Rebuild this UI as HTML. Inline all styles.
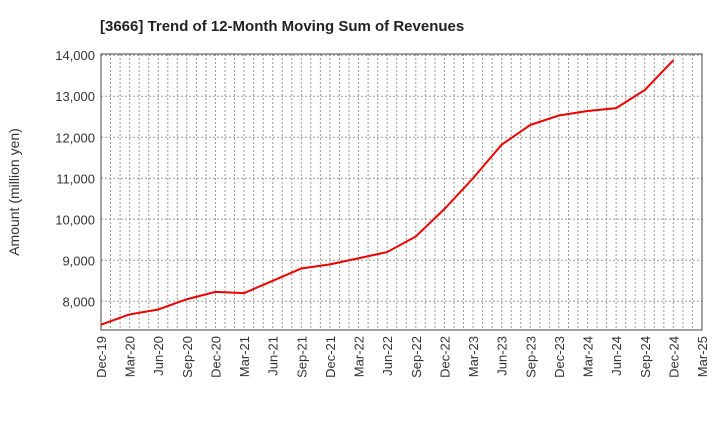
<!DOCTYPE html>
<html><head><meta charset="utf-8"><style>
body{margin:0;background:#fff;font-family:"Liberation Sans",sans-serif}
</style></head><body>
<svg id="c" width="720" height="440" xmlns="http://www.w3.org/2000/svg">
<text x="100" y="31" font-size="15" font-weight="bold" fill="#222">[3666]  Trend of 12-Month Moving Sum of Revenues</text>
<text transform="translate(19,192) rotate(-90)" text-anchor="middle" font-size="14" fill="#333">Amount (million yen)</text>
<g id="grid"></g><g id="axes"></g><g id="series"></g>
</svg>
<script>
const categories=["Dec-19","Mar-20","Jun-20","Sep-20","Dec-20","Mar-21","Jun-21","Sep-21","Dec-21","Mar-22","Jun-22","Sep-22","Dec-22","Mar-23","Jun-23","Sep-23","Dec-23","Mar-24","Jun-24","Sep-24","Dec-24","Mar-25"];
const revenues=[7430,7680,7800,8050,8230,8200,8500,8800,8900,9050,9200,9580,10250,11000,11820,12300,12530,12640,12710,13150,13880];
const yTicks=[8000,9000,10000,11000,12000,13000,14000];
const L=101,R=702,T=54,B=330,yMin=7300,yMax=14030;
const x=i=>L+(R-L)*i/(categories.length-1);
const y=v=>B-(v-yMin)/(yMax-yMin)*(B-T);
const NS="http://www.w3.org/2000/svg";
function mk(tag,attrs,parent){const e=document.createElementNS(NS,tag);for(const k in attrs)e.setAttribute(k,attrs[k]);document.getElementById(parent).appendChild(e);return e;}
const months=(categories.length-1)*3;
for(let m=1;m<months;m++){const xx=L+(R-L)*m/months;
 const g=mk('line',{x1:xx,x2:xx,y1:T,y2:B,stroke:'#999','stroke-width':1,'stroke-dasharray':'2,2'},'grid');
 
 }
yTicks.forEach(v=>{const g=mk('line',{x1:L,x2:R,y1:y(v),y2:y(v),stroke:'#999','stroke-width':1,'stroke-dasharray':'2,2'},'grid');
 
 
 const t=mk('text',{x:L-6,y:y(v)+5,'text-anchor':'end','font-size':13,fill:'#333'},'axes');t.textContent=v.toLocaleString('en-US');
 
 });
categories.forEach((c,i)=>{const t=mk('text',{transform:`translate(${x(i)+5},${B+6}) rotate(-90)`,'text-anchor':'end','font-size':13,fill:'#333'},'axes');t.textContent=c;
 
 });
const fr=mk('rect',{x:L,y:T,width:R-L,height:B-T,fill:'none',stroke:'#444','stroke-width':1},'axes');


const p=mk('polyline',{points:revenues.map((v,i)=>x(i)+','+y(v)).join(' '),fill:'none',stroke:'#e00','stroke-width':2},'series');


</script>
</body></html>
